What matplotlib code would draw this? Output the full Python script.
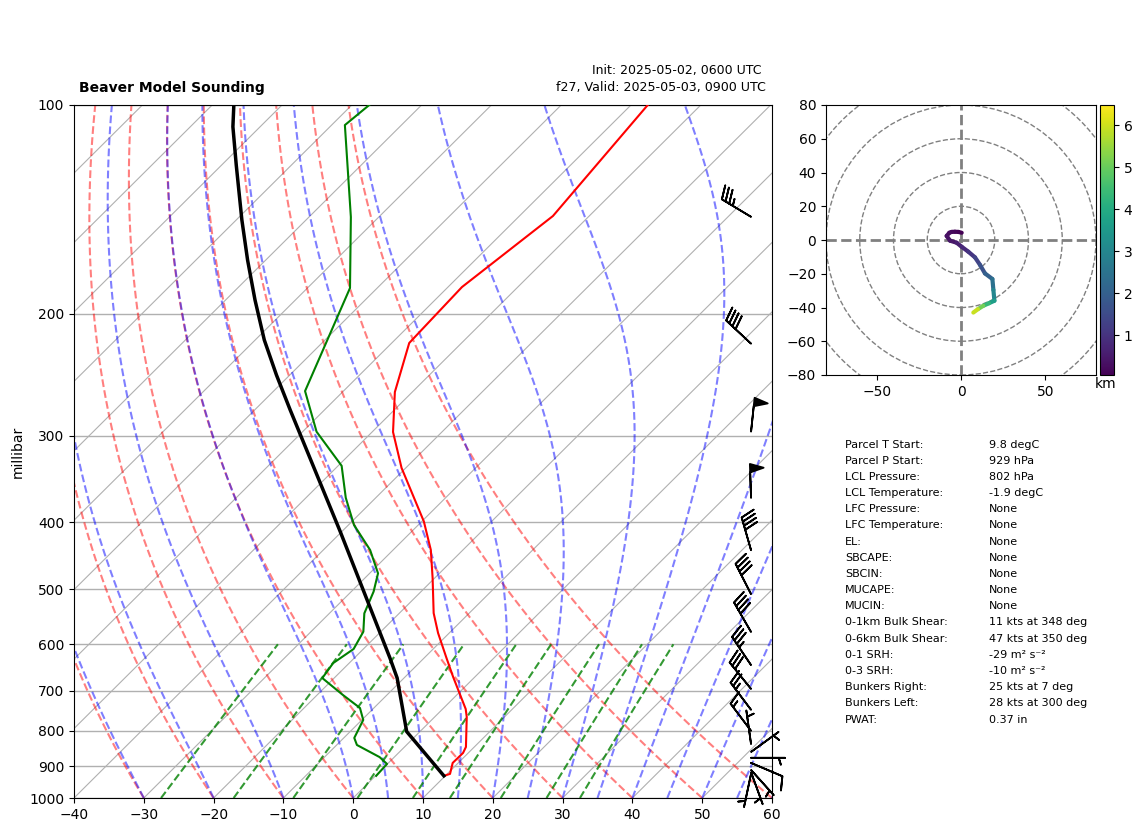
import numpy as np
import matplotlib
matplotlib.use('Agg')
import matplotlib.pyplot as plt
from matplotlib.collections import LineCollection
from matplotlib.patches import Circle
from matplotlib.ticker import NullLocator, FixedLocator, FixedFormatter

W, H = 1142, 832

# ---------- sounding data ----------
temp_p = [929, 923, 890, 861, 844, 764, 744, 669, 628, 578, 541, 481.5, 438.6, 399, 334, 296.4, 259.5, 220.5, 183.1, 144.6, 100]
temp_t = [9.8, 10.4, 9.2, 9.25, 8.8, 4.6, 3.3, -3.1, -6.8, -11.6, -15.1, -20.3, -24.6, -29.7, -40.6, -47.0, -52.5, -57.5, -58.0, -55.2, -57.6]
dew_p = [929, 893, 873, 838.5, 819, 771.6, 741.4, 710.2, 671.3, 638.7, 609.5, 575.4, 541.4, 518, 503.7, 474, 438.6, 403.7, 368.8, 331.6, 296.1, 258.7, 183.7, 145.1, 106.9, 100]
dew_t = [0.1, -0.06, -2.1, -7.1, -8.5, -9.8, -12.0, -16.3, -21.7, -22.3, -21.4, -22.5, -25.0, -26.1, -26.8, -28.8, -33.3, -39.2, -44.3, -49.5, -58.0, -65.5, -73.9, -84.0, -98.1, -97.5]
parcel_p = [929, 802, 671, 628, 591.6, 412.8, 275.5, 245.3, 218.3, 191.1, 167.4, 146.5, 122.1, 107.5, 100]
parcel_t = [9.8, -1.9, -11.0, -14.9, -18.5, -40.2, -64.9, -71.9, -78.7, -85.8, -92.6, -99.2, -107.9, -113.9, -116.9]

# ---------- wind barbs ----------
barb_p = [145, 221, 296, 369, 439, 508, 576, 643, 696, 746, 800, 836, 858, 875, 890, 911, 918, 923]
barb_dir = [301, 313, 6, 358, 344, 333, 330, 326, 321, 323, 323, 352, 54, 90, 113, 138, 160, 192]
barb_kts = [35, 40, 50, 50, 40, 40, 40, 35, 30, 25, 15, 5, 5, 5, 10, 5, 5, 5]

# ---------- hodograph ----------
hodo_u = [0.4, -1.6, -3.6, -5.5, -6.9, -8.5, -6.5, -2.6, 0.4, 4.3, 8.3, 11.3, 14.2, 18.6, 19.2, 19.8, 16.5, 13.2, 10.0, 7.3]
hodo_v = [4.3, 4.8, 4.9, 4.8, 4.3, 2.4, -0.4, -1.6, -4.0, -6.9, -10.3, -14.8, -19.8, -23.1, -29.6, -36.0, -37.5, -39.0, -41.0, -43.0]
hodo_h = [0.05, 0.1, 0.15, 0.2, 0.25, 0.3, 0.4, 0.5, 0.7, 0.9, 1.2, 1.5, 1.85, 2.2, 2.7, 3.3, 4.0, 4.7, 5.5, 6.4]
hodo_vmin, hodo_vmax = 0.05, 6.48

# ---------- thermodynamic background ----------
dry_t0 = list(range(-40, 61, 10))
moist_t0 = [-40, -30, -20, -10, 0, 5, 10, 15, 20, 25, 30, 35, 40, 45, 50, 55, 60]
mix_w = [0.0004, 0.001, 0.002, 0.004, 0.007, 0.01, 0.016, 0.024, 0.032]
isotherms = list(range(-200, 61, 10))

# ---------- table text ----------
table_labels = ['Parcel T Start:', 'Parcel P Start:', 'LCL Pressure:', 'LCL Temperature:',
                'LFC Pressure:', 'LFC Temperature:', 'EL:', 'SBCAPE:', 'SBCIN:', 'MUCAPE:',
                'MUCIN:', '0-1km Bulk Shear:', '0-6km Bulk Shear:', '0-1 SRH:', '0-3 SRH:',
                'Bunkers Right:', 'Bunkers Left:', 'PWAT:']
table_values = ['9.8 degC', '929 hPa', '802 hPa', '-1.9 degC', 'None', 'None', 'None', 'None',
                'None', 'None', 'None', '11 kts at 348 deg', '47 kts at 350 deg',
                '-29 m\u00b2 s\u207b\u00b2', '-10 m\u00b2 s\u207b\u00b2', '25 kts at 7 deg',
                '28 kts at 300 deg', '0.37 in']

SKEW = 99.8  # degC of x per decade of pressure


def sx(t, p):
    return np.asarray(t, float) + SKEW * np.log10(1000.0 / np.asarray(p, float))


def es(tc):
    return 6.112 * np.exp(17.67 * tc / (tc + 243.5))


def moist_grad(tk, p):
    rd, cp, lv, eps = 287.05, 1005.7, 2.501e6, 0.622
    e = es(tk - 273.15)
    rs = eps * e / np.maximum(p - e, 1e-3)
    return (rd * tk + lv * rs) / (cp + lv * lv * rs * eps / (rd * tk * tk)) / p


def moist_profile(t0, levels):
    out = [t0 + 273.15]
    for a, b in zip(levels[:-1], levels[1:]):
        h = b - a
        t = out[-1]
        k1 = moist_grad(t, a)
        k2 = moist_grad(t + h * k1 / 2, a + h / 2)
        k3 = moist_grad(t + h * k2 / 2, a + h / 2)
        k4 = moist_grad(t + h * k3, b)
        out.append(t + h * (k1 + 2 * k2 + 2 * k3 + k4) / 6)
    return np.array(out) - 273.15


fig = plt.figure(figsize=(W / 100, H / 100), dpi=100)

ax = fig.add_axes([74 / W, 1 - 798 / H, 698 / W, 693 / H])
ax.set_yscale('log')
ax.set_xlim(-40, 60)
ax.set_ylim(1000, 100)

levels = np.geomspace(1000, 100, 120)

for p in range(100, 1001, 100):
    ax.axhline(p, color='#b0b0b0', lw=1.0, zorder=1)
for t in isotherms:
    ax.plot(sx([t, t], [1000, 100]), [1000, 100], color='#b0b0b0', lw=0.8, zorder=1)
for t0 in dry_t0:
    prof = (t0 + 273.15) * (levels / 1000.0) ** 0.2854 - 273.15
    ax.plot(sx(prof, levels), levels, color='r', alpha=0.5, ls='--', lw=1.5, zorder=2)
for t0 in moist_t0:
    ax.plot(sx(moist_profile(t0, levels), levels), levels, color='b', alpha=0.5, ls='--', lw=1.5, zorder=2)
mix_levels = np.geomspace(1000, 600, 30)
for w in mix_w:
    e = mix_levels * w / (0.622 + w)
    ln = np.log(e / 6.112)
    td = 243.5 * ln / (17.67 - ln)
    ax.plot(sx(td, mix_levels), mix_levels, color='g', alpha=0.8, ls='--', lw=1.5, zorder=2)

ax.plot(sx(temp_t, temp_p), temp_p, color='r', lw=1.5, zorder=4)
ax.plot(sx(dew_t, dew_p), dew_p, color='g', lw=1.5, zorder=4)
ax.plot(sx(parcel_t, parcel_p), parcel_p, color='k', lw=2.5, zorder=4)

d = np.radians(barb_dir)
s = np.array(barb_kts, float)
u = -s * np.sin(d)
v = -s * np.cos(d)
ax.barbs(np.full(len(barb_p), 0.97), barb_p, u, v, transform=ax.get_yaxis_transform(),
         clip_on=False, length=7, linewidth=1.3, color='k', zorder=5)

ax.yaxis.set_major_locator(FixedLocator(list(range(100, 1001, 100))))
ax.yaxis.set_major_formatter(FixedFormatter([str(p) for p in range(100, 1001, 100)]))
ax.yaxis.set_minor_locator(NullLocator())
ax.set_xticks(range(-40, 61, 10))
ax.set_ylabel('millibar', labelpad=3)
ax.tick_params(labelsize=10)

# hodograph
hax = fig.add_axes([826 / W, 1 - 375 / H, 270 / W, 270 / H])
hax.set_xlim(-80, 80)
hax.set_ylim(-80, 80)
hax.set_xticks([-50, 0, 50])
hax.set_yticks(range(-80, 81, 20))
hax.tick_params(labelsize=10)
for r in range(20, 101, 20):
    hax.add_patch(Circle((0, 0), r, fill=False, ec='grey', ls='--', lw=1.0, zorder=1))
hax.axhline(0, color='grey', ls='--', lw=2, zorder=1)
hax.axvline(0, color='grey', ls='--', lw=2, zorder=1)
pts = np.column_stack([hodo_u, hodo_v])
segs = np.stack([pts[:-1], pts[1:]], axis=1)
lc = LineCollection(segs, cmap='viridis', norm=plt.Normalize(hodo_vmin, hodo_vmax),
                    linewidth=3, capstyle='round', zorder=3)
lc.set_array(0.5 * (np.array(hodo_h[:-1]) + np.array(hodo_h[1:])))
hax.add_collection(lc)

cax = fig.add_axes([1100 / W, 1 - 375 / H, 14 / W, 270 / H])
cb = fig.colorbar(lc, cax=cax)
cb.set_ticks([1, 2, 3, 4, 5, 6])
cb.ax.tick_params(labelsize=10)
fig.text(1106 / W, 1 - 384 / H, 'km', ha='center', va='center', fontsize=10)


def ftext(x, y, s, **kw):
    fig.text(x / W, 1 - y / H, s, va='center', **kw)


ftext(79, 88, 'Beaver Model Sounding', fontsize=10, fontweight='bold')
ftext(592, 70.5, 'Init: 2025-05-02, 0600 UTC', fontsize=9)
ftext(556, 88, 'f27, Valid: 2025-05-03, 0900 UTC', fontsize=9.1)

for i, (a, b) in enumerate(zip(table_labels, table_values)):
    y = 444.5 + i * 16.18
    ftext(845, y, a, fontsize=8)
    ftext(989, y, b, fontsize=8)

fig.savefig('out.png', dpi=100)
